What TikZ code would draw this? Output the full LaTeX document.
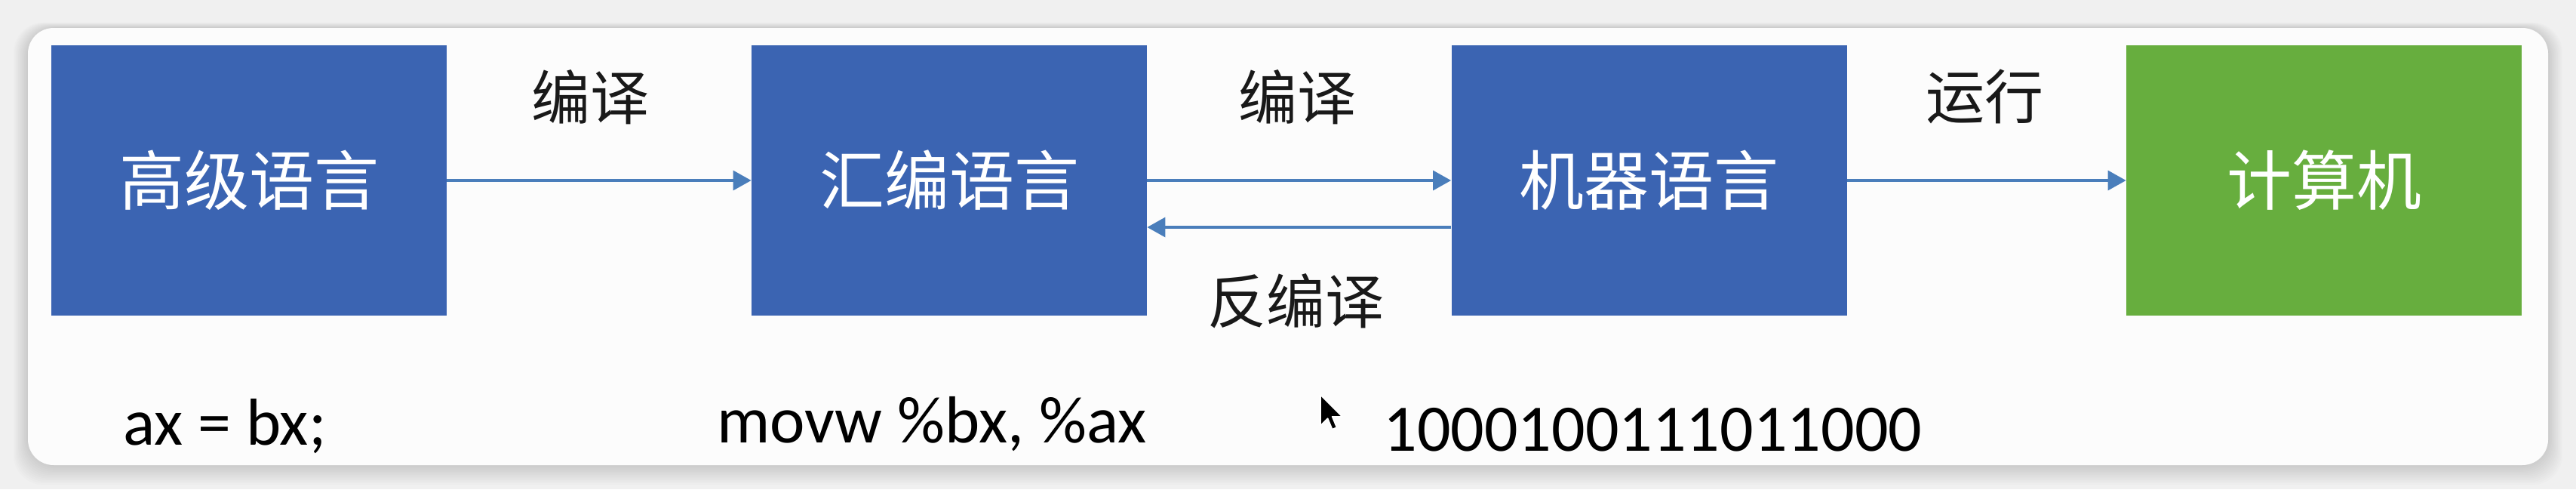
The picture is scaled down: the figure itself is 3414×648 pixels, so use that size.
\documentclass[tikz,border=0pt]{standalone}
\usepackage{fontspec}
\setmainfont{Carlito}
\newfontfamily\cjk{Noto Sans CJK SC}
\usetikzlibrary{arrows.meta}
\definecolor{boxblue}{RGB}{59,100,178}
\definecolor{boxgreen}{RGB}{103,174,62}
\definecolor{arrblue}{RGB}{74,126,187}
\definecolor{outerbg}{RGB}{240,240,240}
\definecolor{cardbg}{RGB}{252,252,252}
\definecolor{labtxt}{RGB}{25,25,25}
\tikzset{
  langbox/.style={rectangle, inner sep=0pt, minimum width=262pt, minimum height=179pt,
    fill=boxblue, text=white, font=\cjk\fontsize{43pt}{50pt}\selectfont},
  pcbox/.style={langbox, fill=boxgreen},
  arr/.style={draw=arrblue, line width=1.6pt, -{Triangle[length=12pt,width=13pt]}},
  lab/.style={inner sep=0pt, text=labtxt, font=\cjk\fontsize{39pt}{46pt}\selectfont},
  code/.style={inner sep=0pt, anchor=base west, text=black, font=\fontsize{44pt}{51pt}\selectfont},
}
\begin{document}
\begin{tikzpicture}[x=0.5pt,y=-0.5pt]
\useasboundingbox (0,0) rectangle (3414,648);
\fill[outerbg] (0,0) rectangle (3414,648);
% soft shadow of the card
\foreach \i in {1,...,12}{
  \fill[black,opacity=0.012,rounded corners=20pt] (37-1.6*\i,37-0.6*\i) rectangle (3377+1.6*\i,616+2.2*\i);
}
\fill[cardbg,rounded corners=17pt] (37,37) rectangle (3377,616);
% boxes
\node[langbox] (b1) at (330,239) {高级语言};
\node[langbox] (b2) at (1258,239) {汇编语言};
\node[langbox] (b3) at (2185.5,239) {机器语言};
\node[pcbox]   (b4) at (3080,239) {计算机};
% connectors
\draw[arr] (b1.east) -- (b2.west);
\draw[arr] (b2.east) -- (b3.west);
\draw[arr] ([yshift=-31pt]b3.west) -- ([yshift=-31pt]b2.east);
\draw[arr] (b3.east) -- (b4.west);
% labels
\node[lab] (l1) at (782,129) {编译};
\node[lab] (l2) at (1719,129) {编译};
\node[lab] (l3) at (1717,399) {反编译};
\node[lab] (l4) at (2630,128) {运行};
% code lines
\node[code] (c1) at (163,589) {ax = bx;};
\node[code] (c2) at (950,586) {movw \%bx, \%ax};
\node[code] (c3) at (1833,597) {1000100111011000};
% mouse pointer
\begin{scope}[shift={(1750,523)},x=0.6pt,y=-0.6pt]
\filldraw[fill=black,draw=white,line width=0.8pt,line join=round]
  (0,0) -- (0,34) -- (8,26) -- (13,38) -- (18,36) -- (13,24) -- (24,24) -- cycle;
\end{scope}
\end{tikzpicture}
\end{document}
